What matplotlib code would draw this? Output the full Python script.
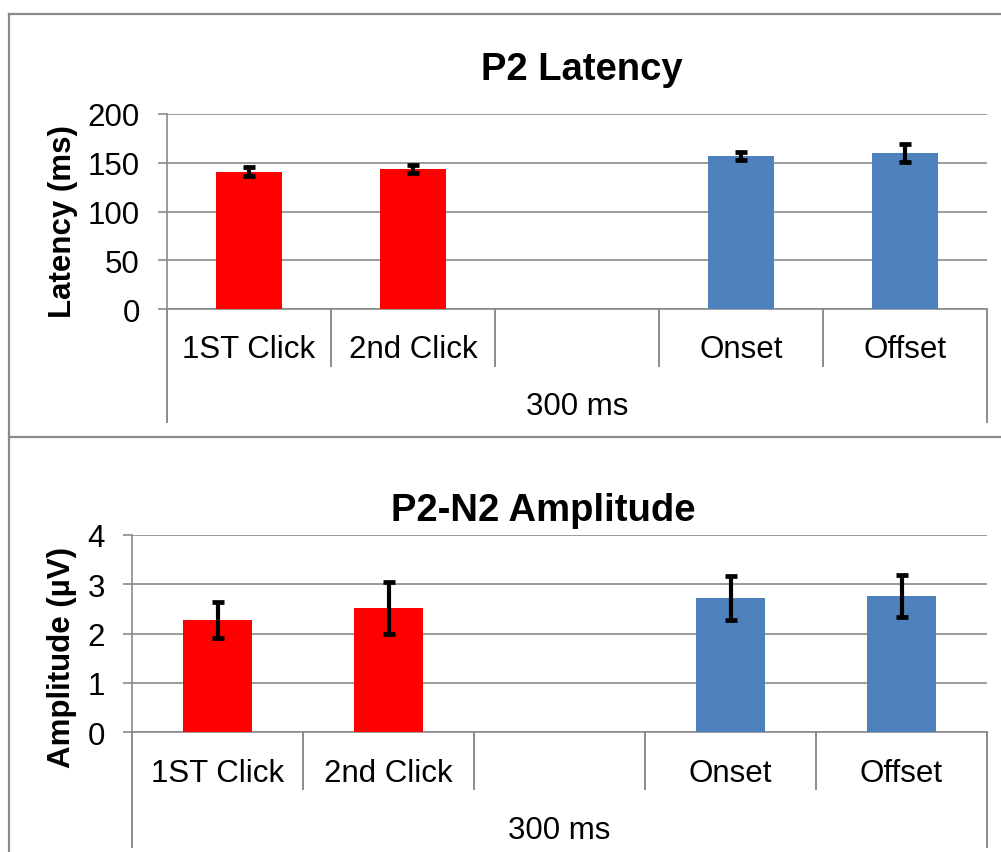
import matplotlib
matplotlib.use("Agg")
import matplotlib.pyplot as plt
import matplotlib.transforms as mtransforms
from matplotlib.lines import Line2D
import numpy as np

plt.rcParams['font.family'] = ['Liberation Sans', 'DejaVu Sans']

# category layout: two clicks, an empty slot, then onset/offset
categories = ['1ST Click', '2nd Click', '', 'Onset', 'Offset']
group_label = '300 ms'
bar_colors = ['#FF0000', '#FF0000', 'none', '#4F81BD', '#4F81BD']

latency = [141, 143.5, np.nan, 157, 160]
latency_err = [4.3, 4.2, np.nan, 4.5, 9.7]

amplitude = [2.27, 2.52, np.nan, 2.72, 2.76]
amplitude_err = [0.37, 0.52, np.nan, 0.44, 0.43]

W, H = 1001, 853
GRAY = '#8a8a8a'
FS = 22.5


def fx(x):
    return x / W


def fy(y):
    return 1 - y / H


def panel(fig, box, values, errs, ylim, yticks, title, ylabel, title_pos, ylabel_pos,
          cat_base, group_base, sep_bottom, axis_bottom):
    l, t, r, b = box
    ax = fig.add_axes([fx(l), fy(b), (r - l) / W, (b - t) / H])
    x = np.arange(len(categories))

    ax.bar(x, values, width=0.4, color=bar_colors, zorder=3)
    ax.errorbar(x, values, yerr=errs, fmt='none', ecolor='black',
                elinewidth=3.0, capsize=4.5, capthick=3.4, zorder=4)

    ax.set_xlim(-0.5, len(categories) - 0.5)
    ax.set_ylim(*ylim)
    ax.set_yticks(yticks)
    ax.set_xticks([])
    ax.yaxis.grid(True, color=GRAY, lw=1.2)
    ax.set_axisbelow(True)
    ax.tick_params(axis='y', length=6.5, width=1.2, color=GRAY, labelsize=FS, pad=13)
    for s in ['top', 'right']:
        ax.spines[s].set_visible(False)
    for s in ['left', 'bottom']:
        ax.spines[s].set_color(GRAY)
        ax.spines[s].set_linewidth(1.2)

    def ay(py):
        return (b - py) / (b - t)

    trans = mtransforms.blended_transform_factory(ax.transData, ax.transAxes)
    # category separators and outer axis lines below the plot
    for i in range(len(categories) + 1):
        xe = i - 0.5
        bottom = axis_bottom if i in (0, len(categories)) else sep_bottom
        ax.add_line(Line2D([xe, xe], [0, ay(bottom)], transform=trans,
                           color=GRAY, lw=1.4, clip_on=False))
    for i, c in enumerate(categories):
        ax.text(i, ay(cat_base), c, transform=trans, ha='center', va='baseline',
                fontsize=FS)
    ax.text((len(categories) - 1) / 2, ay(group_base), group_label, transform=trans,
            ha='center', va='baseline', fontsize=FS)

    fig.text(fx(title_pos[0]), fy(title_pos[1]), title, ha='center', va='baseline',
             fontsize=27.5, fontweight='bold')
    fig.text(fx(ylabel_pos[0]), fy(ylabel_pos[1]), ylabel, ha='center', va='center',
             rotation=90, fontsize=FS, fontweight='bold')
    return ax


fig = plt.figure(figsize=(W / 100, H / 100), dpi=100)

panel(fig, (167, 115, 987, 310), latency, latency_err, (0, 200), [0, 50, 100, 150, 200],
      'P2 Latency', 'Latency (ms)', (582, 80), (63, 222),
      cat_base=358, group_base=415, sep_bottom=367, axis_bottom=423)

panel(fig, (132, 535.7, 987, 733.3), amplitude, amplitude_err, (0, 4), [0, 1, 2, 3, 4],
      'P2-N2 Amplitude', 'Amplitude (µV)', (543, 521), (62, 658),
      cat_base=782, group_base=839, sep_bottom=790, axis_bottom=848)

# chart frames
for xs, ys in [([8.5, 8.5], [15, H]), ([8.5, W], [15, 15]), ([8.5, W], [437.5, 437.5])]:
    fig.add_artist(Line2D([fx(v) for v in xs], [fy(v) for v in ys],
                          transform=fig.transFigure, color=GRAY, lw=1.6))

fig.savefig('out.png', dpi=100)
